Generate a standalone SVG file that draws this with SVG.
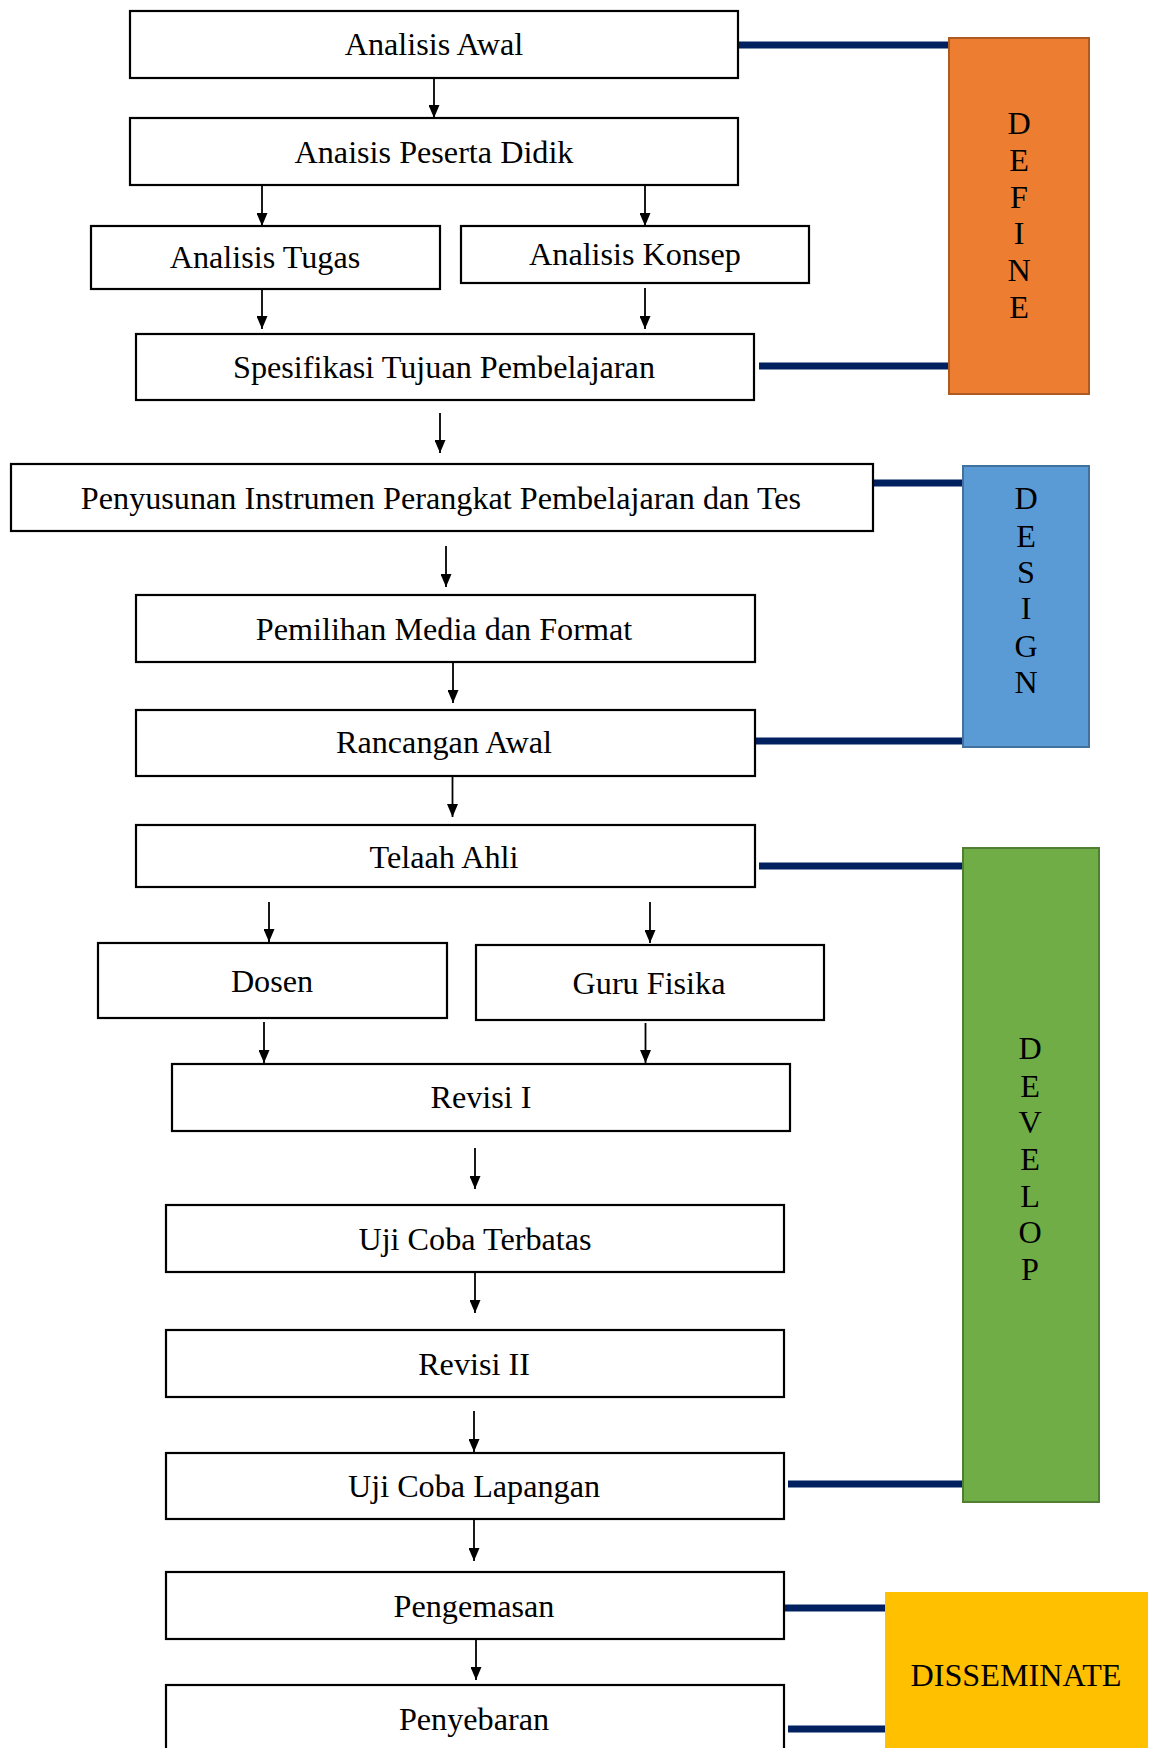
<svg xmlns="http://www.w3.org/2000/svg" width="1155" height="1748" viewBox="0 0 1155 1748">
<style>
.box{fill:#fff;stroke:#000;stroke-width:2.2}
.t{font-family:"Liberation Serif","Times New Roman",serif;font-size:32.2px;fill:#000;text-anchor:middle}
.arr{stroke:#000;stroke-width:1.8;fill:none;marker-end:url(#ah)}
.link{stroke:#002060;stroke-width:7;fill:none}
</style>
<defs>
<marker id="ah" markerUnits="userSpaceOnUse" markerWidth="13" markerHeight="11" refX="13" refY="5.5" orient="auto" viewBox="0 0 13 11">
<path d="M0,0 L13,5.5 L0,11 z" fill="#000"/>
</marker>
</defs>
<rect width="1155" height="1748" fill="#fff"/>
<g id="connectors">
<line class="link" x1="738" y1="45" x2="949" y2="45"/>
<line class="link" x1="759" y1="366" x2="949" y2="366"/>
<line class="link" x1="873" y1="483" x2="963" y2="483"/>
<line class="link" x1="753" y1="741" x2="963" y2="741"/>
<line class="link" x1="759" y1="866" x2="963" y2="866"/>
<line class="link" x1="788" y1="1484" x2="963" y2="1484"/>
<line class="link" x1="785" y1="1608" x2="885" y2="1608"/>
<line class="link" x1="788" y1="1729" x2="885" y2="1729"/>
<line class="arr" x1="434" y1="78" x2="434" y2="118"/>
<line class="arr" x1="262" y1="186" x2="262" y2="226"/>
<line class="arr" x1="645" y1="186" x2="645" y2="226"/>
<line class="arr" x1="262" y1="289" x2="262" y2="329"/>
<line class="arr" x1="645" y1="288" x2="645" y2="329"/>
<line class="arr" x1="440" y1="413" x2="440" y2="453"/>
<line class="arr" x1="446" y1="546" x2="446" y2="587"/>
<line class="arr" x1="453" y1="662" x2="453" y2="703"/>
<line class="arr" x1="452.5" y1="776" x2="452.5" y2="817"/>
<line class="arr" x1="269" y1="902" x2="269" y2="942"/>
<line class="arr" x1="650" y1="902" x2="650" y2="943"/>
<line class="arr" x1="264" y1="1022" x2="264" y2="1063"/>
<line class="arr" x1="645.5" y1="1023" x2="645.5" y2="1063"/>
<line class="arr" x1="475" y1="1148" x2="475" y2="1189"/>
<line class="arr" x1="475" y1="1272" x2="475" y2="1313"/>
<line class="arr" x1="474" y1="1411" x2="474" y2="1452"/>
<line class="arr" x1="474" y1="1519" x2="474" y2="1561"/>
<line class="arr" x1="476" y1="1639" x2="476" y2="1680"/>
</g>
<g id="n1"><rect class="box" x="130" y="11" width="608" height="67"/><text class="t" x="434" y="55">Analisis Awal</text></g>
<g id="n2"><rect class="box" x="130" y="118" width="608" height="67"/><text class="t" x="434" y="163">Anaisis Peserta Didik</text></g>
<g id="n3"><rect class="box" x="91" y="226" width="349" height="63"/><text class="t" x="265" y="268">Analisis Tugas</text></g>
<g id="n4"><rect class="box" x="461" y="226" width="348" height="57"/><text class="t" x="635" y="265">Analisis Konsep</text></g>
<g id="n5"><rect class="box" x="136" y="334" width="618" height="66"/><text class="t" x="444" y="378">Spesifikasi Tujuan Pembelajaran</text></g>
<g id="n6"><rect class="box" x="11" y="464" width="862" height="67"/><text class="t" x="441" y="509">Penyusunan Instrumen Perangkat Pembelajaran dan Tes</text></g>
<g id="n7"><rect class="box" x="136" y="595" width="619" height="67"/><text class="t" x="444" y="640">Pemilihan Media dan Format</text></g>
<g id="n8"><rect class="box" x="136" y="710" width="619" height="66"/><text class="t" x="444" y="753">Rancangan Awal</text></g>
<g id="n9"><rect class="box" x="136" y="825" width="619" height="62"/><text class="t" x="444" y="868">Telaah Ahli</text></g>
<g id="n10"><rect class="box" x="98" y="943" width="349" height="75"/><text class="t" x="272" y="992">Dosen</text></g>
<g id="n11"><rect class="box" x="476" y="945" width="348" height="75"/><text class="t" x="649" y="994">Guru Fisika</text></g>
<g id="n12"><rect class="box" x="172" y="1064" width="618" height="67"/><text class="t" x="481" y="1108">Revisi I</text></g>
<g id="n13"><rect class="box" x="166" y="1205" width="618" height="67"/><text class="t" x="475" y="1250">Uji Coba Terbatas</text></g>
<g id="n14"><rect class="box" x="166" y="1330" width="618" height="67"/><text class="t" x="474" y="1375">Revisi II</text></g>
<g id="n15"><rect class="box" x="166" y="1453" width="618" height="66"/><text class="t" x="474" y="1497">Uji Coba Lapangan</text></g>
<g id="n16"><rect class="box" x="166" y="1572" width="618" height="67"/><text class="t" x="474" y="1617">Pengemasan</text></g>
<g id="n17"><rect class="box" x="166" y="1685" width="618" height="80"/><text class="t" x="474" y="1730">Penyebaran</text></g>
<g id="define"><rect x="949" y="38" width="140" height="356" fill="#ED7D31" stroke="#AE5A21" stroke-width="2"/>
<text class="t" x="1019" y="134">D</text><text class="t" x="1019" y="171">E</text><text class="t" x="1019" y="208">F</text><text class="t" x="1019" y="244">I</text><text class="t" x="1019" y="281">N</text><text class="t" x="1019" y="318">E</text></g>
<g id="design"><rect x="963" y="466" width="126" height="281" fill="#5B9BD5" stroke="#41719C" stroke-width="2"/>
<text class="t" x="1026" y="509">D</text><text class="t" x="1026" y="547">E</text><text class="t" x="1026" y="583">S</text><text class="t" x="1026" y="619">I</text><text class="t" x="1026" y="657">G</text><text class="t" x="1026" y="693">N</text></g>
<g id="develop"><rect x="963" y="848" width="136" height="654" fill="#70AD47" stroke="#507E32" stroke-width="2"/>
<text class="t" x="1030" y="1059">D</text><text class="t" x="1030" y="1097">E</text><text class="t" x="1030" y="1133">V</text><text class="t" x="1030" y="1170">E</text><text class="t" x="1030" y="1207">L</text><text class="t" x="1030" y="1243">O</text><text class="t" x="1030" y="1280">P</text></g>
<g id="disseminate"><rect x="885" y="1592" width="263" height="170" fill="#FFC000"/>
<text class="t" x="1016" y="1686">DISSEMINATE</text></g>
</svg>
